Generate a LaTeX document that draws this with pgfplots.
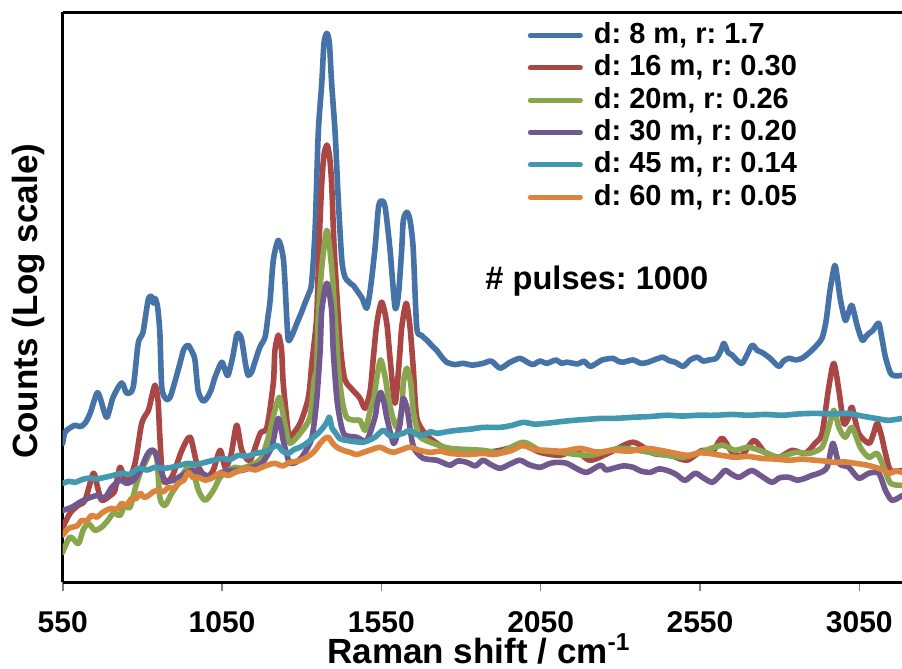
\documentclass[border=0pt]{standalone}
\usepackage{pgfplots}
\pgfplotsset{compat=1.18}
\usepackage{fontspec}
\setmainfont{Liberation Sans}
\frenchspacing
\definecolor{cBlue}{HTML}{4572A7}
\definecolor{cRed}{HTML}{AA4643}
\definecolor{cGreen}{HTML}{89A54E}
\definecolor{cPurple}{HTML}{71588F}
\definecolor{cTeal}{HTML}{4198AF}
\definecolor{cOrange}{HTML}{DB843D}
\begin{document}
\frenchspacing
\begin{tikzpicture}
\begin{axis}[
  scale only axis, width=419.65pt, height=285pt,
  xmin=550, xmax=3184, ymode=log, ymin=1, ymax=1000,
  axis x line*=box, axis y line*=left,
  axis line style={line width=1.3pt, black},
  xtick={550,1050,1550,2050,2550,3050},
  scaled x ticks=false,
  xtick pos=bottom, tick align=outside,
  major tick length=4.5pt,
  x tick style={gray, line width=0.8pt},
  ytick=\empty,
  /pgf/number format/assume math mode=true,
  xticklabel style={/pgf/number format/1000 sep={}, font=\bfseries\fontsize{15}{18}\selectfont, anchor=base, yshift=-20.5pt},
  xlabel={Raman shift / cm\textsuperscript{-1}},
  xlabel style={at={(axis description cs:0.496,-0.142)}, anchor=base, font=\bfseries\fontsize{17.5}{20}\selectfont, inner sep=0pt},
  ylabel={Counts (Log scale)},
  ylabel style={at={(axis description cs:-0.0402,0.493)}, anchor=center, font=\bfseries\fontsize{17.5}{20}\selectfont, inner sep=0pt},
  legend style={at={(axis description cs:0.5542,0.982)}, anchor=north west, draw=none, fill=none, inner sep=0pt, outer sep=0pt,
    font=\bfseries\fontsize{14.5}{17}\selectfont, row sep=3.15pt, column sep=0pt,
    nodes={inner sep=0pt, text height=10.5pt, text depth=2.5pt}},
  legend cell align=left,
  legend image code/.code={\path[draw=none,fill=none] (0pt,0pt) -- (33pt,0pt); \draw[#1, line width=2.5pt, line cap=round] (1.25pt,0pt) -- (26.25pt,0pt);},
  every axis plot/.append style={line width=2.8pt, line join=round, line cap=round, no markers, smooth, tension=0.45},
]
\coordinate (bl) at (rel axis cs:0,0);
\coordinate (tr) at (rel axis cs:1,1);

\addplot[cBlue] coordinates {
(550,5.39) (557,6.16) (573,6.50) (589,6.71) (605,6.60) (620,6.87) (636,7.75) (657,9.88) (667,9.41) (688,7.39) (708,9.41) (735,11.2) (751,9.88) (771,10.6) (787,18.1) (802,20.7) (818,30.5) (828,32.0) (834,29.5) (840,31.2) (848,28.0) (855,20.4) (861,10.6) (875,9.20) (887,9.41) (903,11.5) (918,14.2) (930,16.8) (943,17.7) (955,16.5) (965,14.8) (975,10.2) (990,9.00) (1002,9.30) (1015,10.2) (1028,12.0) (1049,14.4) (1060,13.0) (1069,12.3) (1084,15.5) (1096,20.0) (1104,20.2) (1112,18.8) (1124,14.0) (1132,12.3) (1143,12.8) (1153,14.4) (1169,17.3) (1185,19.5) (1194,24.8) (1201,30.5) (1211,49.5) (1227,63.1) (1243,49.5) (1253,24.8) (1258,18.8) (1270,20.0) (1285,23.1) (1300,26.5) (1310,29.4) (1322,33.0) (1331,37.5) (1342,71.2) (1352,231) (1363,423) (1370,687) (1379,775) (1387,687) (1394,423) (1405,231) (1415,102) (1426,49.5) (1436,40.3) (1446,38.5) (1452,37.5) (1462,36.5) (1473,34.4) (1490,31.2) (1504,27.7) (1515,34.4) (1530,56.9) (1541,94.1) (1551,102) (1562,94.1) (1577,56.9) (1593,28.0) (1604,33.2) (1614,56.9) (1619,80.4) (1630,88.6) (1640,80.4) (1650,56.9) (1661,22.0) (1675,20.0) (1693,18.8) (1710,17.5) (1724,16.6) (1740,15.3) (1755,14.4) (1780,14.0) (1807,14.2) (1835,13.9) (1869,14.2) (1895,14.6) (1923,13.4) (1954,14.4) (1985,15.1) (2005,14.5) (2026,14.0) (2048,14.6) (2069,14.2) (2098,14.8) (2115,14.2) (2132,14.4) (2167,14.1) (2185,14.6) (2205,13.7) (2225,14.2) (2243,14.8) (2277,15.1) (2295,14.5) (2309,14.4) (2340,14.8) (2365,14.2) (2387,14.4) (2410,14.9) (2434,15.3) (2452,14.7) (2472,14.4) (2497,13.7) (2519,14.8) (2541,15.3) (2560,14.6) (2578,14.8) (2601,15.1) (2615,16.5) (2625,18.1) (2638,16.2) (2651,15.7) (2665,14.8) (2682,14.2) (2698,15.8) (2714,17.7) (2730,16.6) (2745,16.2) (2770,15.1) (2797,13.7) (2812,14.6) (2829,15.1) (2850,14.8) (2870,15.1) (2890,16.0) (2911,17.3) (2933,19.3) (2946,23.9) (2958,34.4) (2973,46.6) (2982,38.8) (2991,30.5) (3006,23.9) (3017,26.5) (3027,28.7) (3043,22.5) (3059,18.8) (3070,19.6) (3080,20.4) (3093,21.2) (3111,23.1) (3122,18.8) (3132,15.3) (3148,12.6) (3163,12.2) (3184,12.3)
};
\addlegendentry{d: 8 m, r: 1.7}

\addplot[cRed] coordinates {
(550,1.95) (573,2.31) (598,2.54) (620,2.70) (646,3.75) (658,3.24) (672,2.70) (699,2.86) (714,3.05) (730,4.03) (751,3.32) (777,4.23) (798,6.87) (819,8.04) (830,9.6) (840,10.9) (849,9.07) (855,5.80) (865,3.44) (892,3.57) (924,4.95) (950,5.80) (971,4.23) (999,3.57) (1022,3.88) (1044,4.95) (1060,4.03) (1078,4.66) (1096,6.71) (1112,4.95) (1138,4.39) (1170,6.08) (1191,6.54) (1211,11.2) (1216,16.6) (1227,20.0) (1237,16.6) (1242,11.2) (1257,6.31) (1263,5.80) (1295,6.87) (1321,9.41) (1333,14.8) (1347,24.8) (1354,56.9) (1363,126) (1370,177) (1379,200) (1387,177) (1394,126) (1402,56.9) (1415,24.8) (1424,15.7) (1436,11.6) (1462,10.2) (1483,9.30) (1499,8.24) (1515,10.2) (1525,15.3) (1536,23.1) (1551,29.8) (1567,23.1) (1577,15.3) (1593,8.75) (1607,15.3) (1614,22.0) (1628,29.4) (1640,22.0) (1650,13.5) (1661,7.39) (1687,6.08) (1724,5.39) (1766,4.95) (1869,4.83) (1923,4.95) (1995,5.26) (2048,4.83) (2111,4.66) (2158,4.95) (2205,4.39) (2268,4.83) (2340,5.46) (2403,4.77) (2456,4.66) (2509,4.39) (2557,4.95) (2588,4.83) (2619,5.73) (2651,4.83) (2682,4.66) (2719,5.58) (2754,4.83) (2797,4.55) (2839,4.95) (2880,4.77) (2911,5.39) (2933,6.08) (2954,10.6) (2970,14.2) (2986,10.2) (3001,6.87) (3015,7.29) (3027,8.34) (3048,6.08) (3080,5.39) (3093,5.95) (3106,6.87) (3119,5.95) (3132,4.77) (3148,3.88) (3184,3.88)
};
\addlegendentry{d: 16 m, r: 0.30}

\addplot[cGreen] coordinates {
(550,1.44) (573,1.73) (599,1.60) (614,1.88) (630,2.04) (651,1.88) (672,1.95) (692,2.12) (709,2.31) (730,2.25) (745,2.54) (761,2.48) (782,3.32) (796,3.88) (808,4.23) (829,4.95) (845,4.55) (855,2.80) (871,2.54) (892,2.94) (913,3.32) (934,3.88) (955,4.03) (976,3.05) (997,2.70) (1023,3.05) (1044,3.57) (1070,3.88) (1091,4.03) (1112,3.98) (1154,4.23) (1175,4.55) (1188,5.26) (1201,6.31) (1216,8.04) (1230,9.41) (1242,7.57) (1251,6.31) (1263,5.39) (1295,6.08) (1326,7.39) (1339,11.6) (1347,13.5) (1352,24.8) (1363,45.5) (1379,71.2) (1394,45.5) (1405,24.8) (1415,13.5) (1427,9.07) (1441,7.39) (1467,7.12) (1483,7.12) (1499,6.31) (1515,8.04) (1527,9.41) (1536,12.0) (1548,14.8) (1562,12.0) (1572,9.41) (1584,7.57) (1598,6.54) (1614,8.04) (1619,11.2) (1630,13.4) (1642,11.2) (1650,8.04) (1659,6.71) (1672,5.80) (1713,5.39) (1766,5.07) (1869,4.95) (1923,4.83) (1995,5.46) (2048,4.95) (2111,4.83) (2205,4.66) (2299,5.07) (2393,4.83) (2494,4.55) (2550,4.83) (2619,5.26) (2660,4.95) (2703,5.14) (2754,4.83) (2797,4.55) (2849,4.83) (2892,4.77) (2933,5.14) (2954,6.54) (2970,8.04) (2986,6.54) (3006,5.80) (3027,6.54) (3053,5.14) (3080,4.55) (3106,4.77) (3127,4.03) (3148,3.32) (3184,3.24)
};
\addlegendentry{d: 20m, r: 0.26}

\addplot[cPurple] coordinates {
(550,2.39) (578,2.48) (604,2.64) (630,2.77) (657,2.86) (683,2.80) (704,3.16) (730,3.44) (751,3.32) (772,3.44) (793,3.88) (814,4.66) (827,4.95) (840,4.83) (855,4.03) (871,3.44) (897,3.44) (924,3.66) (955,3.88) (986,3.75) (1018,3.57) (1049,3.79) (1081,3.88) (1112,3.88) (1143,4.03) (1175,4.23) (1201,4.95) (1211,5.58) (1219,6.54) (1227,7.30) (1235,6.54) (1242,5.58) (1254,4.66) (1263,4.23) (1282,4.28) (1300,4.55) (1326,5.39) (1336,6.31) (1347,9.07) (1358,16.6) (1363,27.0) (1379,37.5) (1394,27.0) (1399,16.6) (1411,9.07) (1424,6.71) (1436,5.95) (1473,5.80) (1504,5.58) (1530,7.39) (1537,8.75) (1548,10.0) (1559,8.75) (1567,7.39) (1588,5.39) (1602,6.16) (1609,6.87) (1614,8.34) (1619,9.30) (1630,8.34) (1638,6.87) (1646,5.58) (1656,4.95) (1682,4.49) (1724,4.39) (1745,4.25) (1766,4.13) (1790,4.35) (1818,4.28) (1845,4.10) (1869,4.39) (1895,4.15) (1923,3.98) (1955,4.20) (1985,4.39) (2015,4.15) (2048,4.03) (2075,4.20) (2098,4.28) (2132,4.23) (2165,3.95) (2195,3.79) (2237,4.13) (2255,3.90) (2277,3.98) (2310,4.10) (2340,4.03) (2365,3.85) (2394,3.79) (2420,3.95) (2447,3.88) (2475,3.70) (2503,3.44) (2535,3.75) (2560,3.55) (2588,3.36) (2610,3.60) (2629,3.88) (2650,3.70) (2672,3.57) (2695,3.75) (2714,3.88) (2745,3.60) (2776,3.36) (2800,3.55) (2829,3.57) (2855,3.45) (2880,3.53) (2900,3.65) (2923,3.75) (2949,4.03) (2967,5.39) (2986,4.23) (3017,4.03) (3048,3.53) (3080,3.75) (3111,3.75) (3132,3.05) (3153,2.70) (3184,2.86)
};
\addlegendentry{d: 30 m, r: 0.20}

\addplot[cTeal] coordinates {
(550,3.32) (570,3.40) (589,3.36) (610,3.47) (630,3.53) (655,3.50) (683,3.57) (710,3.66) (735,3.75) (760,3.70) (787,3.98) (815,3.90) (840,4.03) (865,3.98) (892,4.03) (918,4.13) (944,4.23) (970,4.18) (997,4.28) (1023,4.39) (1049,4.49) (1075,4.43) (1101,4.66) (1128,4.60) (1154,4.77) (1175,4.83) (1195,4.95) (1222,5.26) (1240,4.90) (1258,4.77) (1276,5.00) (1295,5.14) (1316,5.40) (1337,5.80) (1352,6.10) (1368,6.54) (1380,7.00) (1387,7.39) (1395,6.50) (1405,6.16) (1420,5.70) (1441,5.58) (1465,5.50) (1494,5.46) (1512,5.60) (1530,5.80) (1556,6.31) (1577,5.90) (1598,5.95) (1620,6.10) (1640,6.31) (1660,6.00) (1682,5.95) (1705,6.20) (1724,6.08) (1755,6.20) (1787,6.31) (1830,6.40) (1869,6.54) (1923,6.54) (1960,6.70) (1995,6.95) (2030,6.80) (2069,6.87) (2110,7.00) (2152,7.12) (2195,7.20) (2237,7.29) (2290,7.30) (2340,7.39) (2390,7.45) (2447,7.57) (2495,7.50) (2541,7.57) (2597,7.57) (2650,7.65) (2703,7.57) (2755,7.65) (2808,7.57) (2860,7.70) (2911,7.75) (2960,7.70) (3017,7.75) (3050,7.55) (3080,7.39) (3110,7.25) (3143,7.12) (3184,7.29)
};
\addlegendentry{d: 45 m, r: 0.14}

\addplot[cOrange] coordinates {
(550,1.77) (565,1.90) (578,1.95) (595,1.98) (610,2.12) (625,2.10) (641,2.25) (657,2.20) (672,2.31) (688,2.40) (704,2.45) (720,2.42) (735,2.60) (750,2.55) (767,2.77) (780,2.75) (793,2.94) (806,2.80) (819,2.86) (835,3.00) (850,3.05) (866,3.00) (882,3.16) (898,3.12) (913,3.32) (930,3.45) (944,3.79) (960,3.55) (976,3.57) (997,3.45) (1018,3.53) (1035,3.70) (1049,3.75) (1070,3.65) (1091,3.79) (1112,3.90) (1133,3.98) (1155,3.90) (1175,4.03) (1195,4.15) (1216,4.23) (1240,4.10) (1263,4.28) (1290,4.35) (1316,4.55) (1340,4.90) (1358,5.39) (1372,5.70) (1384,5.80) (1397,5.40) (1410,5.14) (1430,4.95) (1452,4.83) (1472,4.70) (1494,4.83) (1520,5.00) (1546,5.14) (1567,4.95) (1588,4.83) (1615,5.00) (1640,5.14) (1670,4.95) (1703,4.83) (1735,4.90) (1766,4.77) (1820,4.70) (1869,4.77) (1900,4.70) (1923,4.77) (1960,4.95) (1995,5.26) (2030,5.00) (2069,4.95) (2120,4.90) (2174,5.07) (2225,4.85) (2277,4.95) (2330,4.90) (2384,5.07) (2440,4.90) (2509,4.66) (2545,4.80) (2577,4.77) (2620,4.65) (2660,4.55) (2700,4.60) (2745,4.49) (2790,4.45) (2829,4.39) (2870,4.45) (2911,4.39) (2940,4.35) (2974,4.28) (3005,4.30) (3037,4.23) (3070,4.15) (3100,4.03) (3125,3.90) (3143,3.75) (3165,3.85) (3184,3.79)
};
\addlegendentry{d: 60 m, r: 0.05}

\node[anchor=base west, inner sep=0pt, font=\bfseries\fontsize{16.3}{19}\selectfont] at (axis description cs:0.5032,0.5135) {\# pulses: 1000};
\end{axis}
\pgfresetboundingbox
\useasboundingbox ([xshift=-31.35pt,yshift=-43pt]bl) rectangle ([yshift=6.15pt]tr);
\end{tikzpicture}
\end{document}
